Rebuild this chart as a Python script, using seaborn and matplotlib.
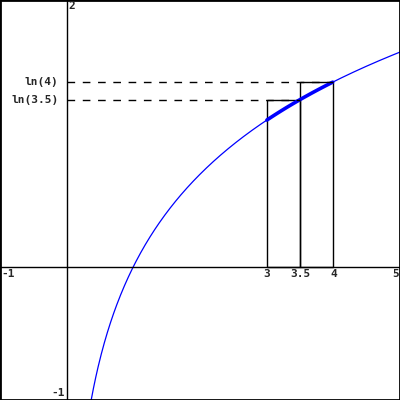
import numpy as np
import pandas as pd
import seaborn as sns
import matplotlib.pyplot as plt

# Data
x_curve = np.linspace(np.exp(-1), 5, 400)
rect_left = [3, 3.5]
rect_right = [3.5, 4]
rect_labels = ['ln(3.5)', 'ln(4)']
xtick_vals = [3, 3.5, 4]
xtick_labels = ['3', '3.5', '4']

df = pd.DataFrame({'x': x_curve, 'y': np.log(x_curve)})
seg = df[(df['x'] >= 3) & (df['x'] <= 4)]
heights = [np.log(r) for r in rect_right]

sns.set_style('white')
plt.rcParams['font.family'] = ['DejaVu Sans Mono']
plt.rcParams['font.weight'] = 'bold'

fig = plt.figure(figsize=(4, 4), dpi=100)
ax = fig.add_axes([0, 0, 1, 1])

# function curve and the thick segment
sns.lineplot(data=df, x='x', y='y', color='#0000ff', lw=0.9, ax=ax)
sns.lineplot(data=seg, x='x', y='y', color='#0000ff', lw=2.6, ax=ax)

# rectangles
widths = [r - l for l, r in zip(rect_left, rect_right)]
ax.bar(rect_left, heights, width=widths, align='edge', fill=False,
       edgecolor='black', linewidth=1)

# dashed guides
for r, h in zip(rect_right, heights):
    ax.plot([0, r], [h, h], color='black', lw=1, dashes=(5.5, 5.5))

# axes through origin
ax.axhline(0, color='black', lw=1)
ax.axvline(0, color='black', lw=1)

ax.set_xlim(-1, 5)
ax.set_ylim(-1, 2)
ax.set_xticks([])
ax.set_yticks([])
ax.set_xlabel('')
ax.set_ylabel('')
for s in ax.spines.values():
    s.set_visible(True)
    s.set_color('black')
    s.set_linewidth(2)

fs = 8
for v, lab in zip(xtick_vals, xtick_labels):
    ax.text(v, -0.015, lab, ha='center', va='top', fontsize=fs)
ax.text(4.985, -0.015, '5', ha='right', va='top', fontsize=fs)
ax.text(-0.985, -0.015, '-1', ha='left', va='top', fontsize=fs)
ax.text(0.02, 1.99, '2', ha='left', va='top', fontsize=fs)
ax.text(-0.03, -0.985, '-1', ha='right', va='bottom', fontsize=fs)
for lab, h in zip(rect_labels, heights):
    ax.text(-0.12, h, lab, ha='right', va='center', fontsize=fs)

fig.savefig('out.png', dpi=100)
